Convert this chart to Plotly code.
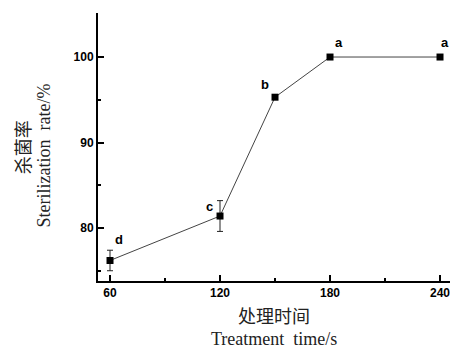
import plotly.graph_objects as go

time_s = [60, 120, 150, 180, 240]
rate = [76.2, 81.4, 95.3, 100.0, 100.0]
err = [1.2, 1.8, 0, 0, 0]
sig = ["d", "c", "b", "a", "a"]

label_shift = [(9, 21), (-11, 10), (-10, 13), (9, 15), (5, 15)]

fig = go.Figure()
fig.add_trace(go.Scatter(
    x=time_s, y=rate,
    mode="lines+markers",
    line=dict(color="#444444", width=1),
    marker=dict(symbol="square", size=7, color="black"),
    error_y=dict(type="data", array=err, visible=True, color="#222222",
                 thickness=1, width=3),
    showlegend=False, cliponaxis=False,
))

for xv, yv, s, (dx, dy) in zip(time_s, rate, sig, label_shift):
    fig.add_annotation(x=xv, y=yv, text=s, showarrow=False,
                       xshift=dx, yshift=dy,
                       font=dict(family="Liberation Sans, Arial", size=13,
                                 color="black", weight="bold"))

fig.add_annotation(xref="paper", yref="paper", x=0.5, y=-0.128, yanchor="middle",
                   text="处理时间", showarrow=False,
                   font=dict(family="Noto Sans CJK SC", size=18, color="#222",
                             weight="normal"))
fig.add_annotation(xref="paper", yref="paper", x=0.5, y=-0.216, yanchor="middle",
                   text="Treatment  time/s", showarrow=False,
                   font=dict(family="Liberation Serif, Times New Roman", size=18, color="#222"))
fig.add_annotation(xref="paper", yref="paper", x=-0.215, y=0.5, xanchor="center",
                   text="杀菌率", showarrow=False, textangle=-90,
                   font=dict(family="Noto Sans CJK SC", size=18, color="#222"))
fig.add_annotation(xref="paper", yref="paper", x=-0.152, y=0.47, xanchor="center",
                   text="Sterilization  rate/%", showarrow=False, textangle=-90,
                   font=dict(family="Liberation Serif, Times New Roman", size=18, color="#222"))

tickfont = dict(family="Liberation Sans, Arial", size=12, color="black", weight="bold")

fig.update_xaxes(range=[53.45, 245.45], tickvals=[60, 120, 180, 240],
                 ticks="inside", ticklen=6, tickwidth=1.5, tickcolor="black",
                 minor=dict(tickvals=[90, 150, 210], ticks="inside", ticklen=3,
                            tickwidth=1.5, tickcolor="black"),
                 showline=True, linecolor="black", linewidth=2, showgrid=False,
                 zeroline=False, ticklabeloverflow="allow", tickfont=tickfont)
fig.update_yaxes(range=[73.8, 105.15], tickvals=[80, 90, 100],
                 ticks="inside", ticklen=6, tickwidth=1.5, tickcolor="black",
                 minor=dict(tickvals=[75, 85, 95], ticks="inside", ticklen=3,
                            tickwidth=1.5, tickcolor="black"),
                 showline=True, linecolor="black", linewidth=2, showgrid=False,
                 zeroline=False, tickfont=tickfont)

fig.update_layout(width=450, height=350, margin=dict(l=98, r=0, t=13, b=69),
                  plot_bgcolor="white", paper_bgcolor="white")

fig.write_html("out.html")
